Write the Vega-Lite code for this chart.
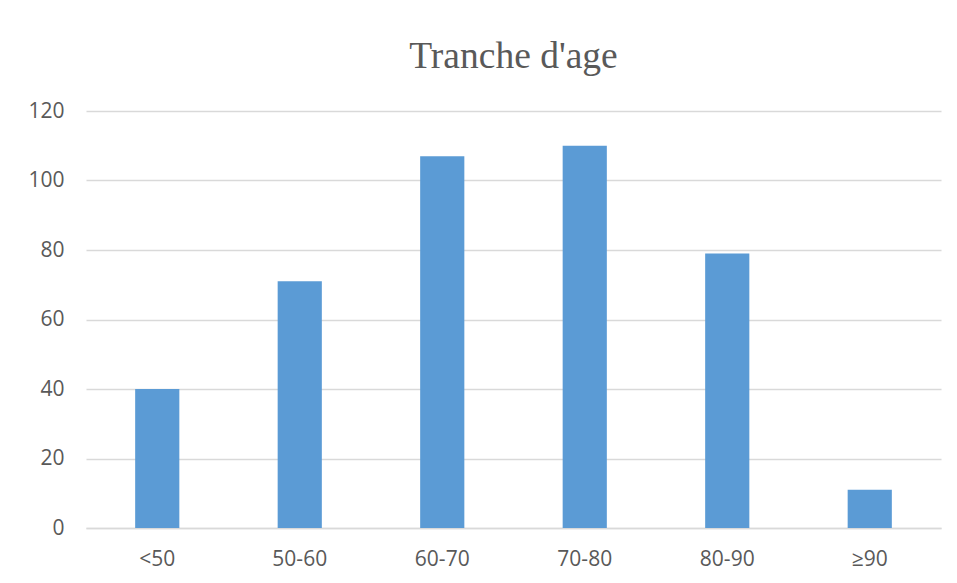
{
  "$schema": "https://vega.github.io/schema/vega-lite/v6.json",
  "width": 855,
  "height": 417,
  "autosize": {"type": "none"},
  "padding": {"left": 86, "top": 111, "right": 16, "bottom": 55},
  "background": "white",
  "title": {
    "text": "Tranche d'age",
    "font": "Liberation Serif",
    "fontSize": 37.5,
    "fontWeight": "normal",
    "color": "#595959",
    "anchor": "middle",
    "offset": 25
  },
  "data": {
    "values": [
      {"tranche": "<50", "n": 40},
      {"tranche": "50-60", "n": 71},
      {"tranche": "60-70", "n": 107},
      {"tranche": "70-80", "n": 110},
      {"tranche": "80-90", "n": 79},
      {"tranche": "≥90", "n": 11}
    ]
  },
  "mark": {"type": "bar", "color": "#5B9BD5"},
  "encoding": {
    "x": {
      "field": "tranche",
      "type": "nominal",
      "sort": null,
      "scale": {"paddingInner": 0.69, "paddingOuter": 0.345},
      "axis": {
        "title": null,
        "labelAngle": 0,
        "labelFont": "Open Sans",
        "labelFontSize": 21,
        "labelColor": "#595959",
        "labelPadding": 20,
        "ticks": false,
        "domainColor": "#d9d9d9",
        "domainWidth": 1.5,
        "grid": false
      }
    },
    "y": {
      "field": "n",
      "type": "quantitative",
      "scale": {"domain": [0, 120]},
      "axis": {
        "title": null,
        "values": [0, 20, 40, 60, 80, 100, 120],
        "labelFont": "Open Sans",
        "labelFontSize": 21,
        "labelColor": "#595959",
        "labelPadding": 22,
        "ticks": false,
        "domain": false,
        "gridColor": "#d9d9d9",
        "gridWidth": 1.5
      }
    }
  },
  "config": {"view": {"stroke": null}}
}
